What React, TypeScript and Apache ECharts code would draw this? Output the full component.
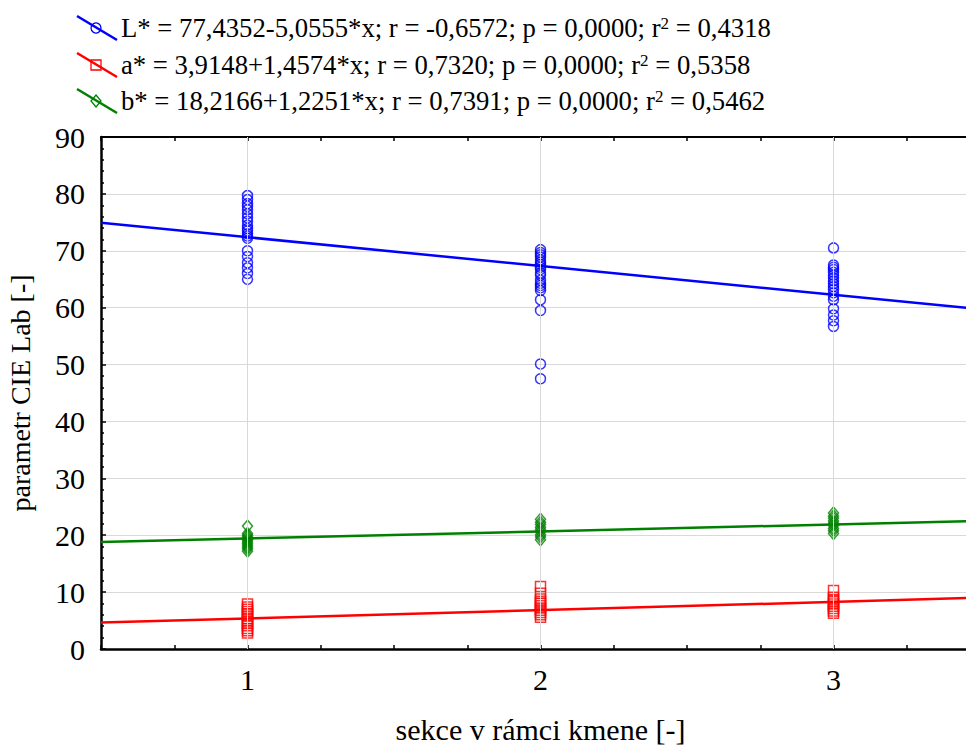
import React, { useEffect, useRef } from "react";
import * as echarts from "echarts";

// ---- data ----
const xTicks = [1, 2, 3];
const seriesNames = ["L*", "a*", "b*"];
const legendLabels = [
  "L* = 77,4352-5,0555*x; r = -0,6572; p = 0,0000; r",
  "a* = 3,9148+1,4574*x; r = 0,7320; p = 0,0000; r",
  "b* = 18,2166+1,2251*x; r = 0,7391; p = 0,0000; r",
];
const legendR2 = ["0,4318", "0,5358", "0,5462"];
const intercepts = [77.4352, 3.9148, 18.2166];
const slopes = [-5.0555, 1.4574, 1.2251];
const colors = ["#0000ff", "#ff0000", "#008000"];

const L1 = [79.7, 79.0, 78.3, 77.8, 77.2, 76.5, 75.8, 75.2, 74.5, 73.9, 73.5, 73.0, 72.6, 72.2, 70.0, 69.0, 67.9, 67.0, 66.0, 65.0];
const L2 = [70.2, 69.7, 69.3, 68.9, 68.4, 68.0, 67.6, 67.1, 66.7, 66.1, 65.7, 64.8, 64.3, 63.9, 63.5, 63.0, 61.4, 59.5, 50.1, 47.5];
const L3 = [70.5, 67.5, 67.1, 66.7, 66.2, 65.7, 65.2, 64.7, 64.2, 63.7, 63.2, 62.6, 62.0, 61.4, 59.8, 58.7, 57.7, 56.7];

const a1 = [7.9, 7.4, 7.0, 6.6, 6.2, 5.8, 5.3, 4.9, 4.5, 4.1, 3.6, 3.2, 2.8];
const a2 = [11.0, 9.8, 8.8, 8.4, 8.0, 7.6, 7.2, 6.8, 6.4, 6.0, 5.6];
const a3 = [10.3, 9.1, 8.7, 8.3, 7.9, 7.5, 7.1, 6.7, 6.3];

const b1 = [21.6, 20.3, 20.0, 19.7, 19.4, 19.1, 18.8, 18.5, 18.2, 17.9, 17.6, 17.2];
const b2 = [22.8, 22.3, 21.9, 21.4, 21.0, 20.6, 20.1, 19.7, 19.2];
const b3 = [23.9, 23.4, 23.0, 22.5, 22.1, 21.7, 21.2, 20.8, 20.3];

const xMin = 0.5;
const xMax = 3.5;
const yMin = 0;
const yMax = 90;

const FONT = "'Liberation Serif', 'Times New Roman', serif";

function groupData(groups: number[][]) {
  const out: number[][] = [];
  groups.forEach((vals, i) => vals.forEach((v) => out.push([xTicks[i], v])));
  return out;
}

export default function App() {
  const ref = useRef<HTMLDivElement>(null);

  useEffect(() => {
    if (!ref.current) return;
    const chart = echarts.init(ref.current, undefined, { renderer: "svg" });

    const scatterSets = [groupData([L1, L2, L3]), groupData([a1, a2, a3]), groupData([b1, b2, b3])];
    const symbols = ["circle", "rect", "diamond"];
    const symbolSizes: any[] = [10, [10, 10], [10, 12]];

    const series: any[] = [
      {
        type: "line",
        data: [],
        silent: true,
        z: 1,
        markLine: {
          silent: true,
          symbol: "none",
          label: { show: false },
          lineStyle: { color: "#d9d9d9", type: "solid", width: 1 },
          data: xTicks.map((x) => ({ xAxis: x })),
        },
      },
    ];

    seriesNames.forEach((name, i) => {
      series.push({
        name: name + " fit",
        type: "line",
        data: [
          [xMin, intercepts[i] + slopes[i] * xMin],
          [xMax, intercepts[i] + slopes[i] * xMax],
        ],
        showSymbol: false,
        silent: true,
        z: 3,
        lineStyle: { color: colors[i], width: 2.5 },
      });
      series.push({
        name,
        type: "scatter",
        data: scatterSets[i],
        symbol: symbols[i],
        symbolSize: symbolSizes[i],
        z: 4,
        itemStyle: { color: "transparent", borderColor: colors[i], borderWidth: 1.5 },
      });
    });

    // custom legend (diagonal line + marker + text)
    const rowsY = [28, 65, 101];
    const graphic: any[] = [];
    rowsY.forEach((cy, i) => {
      graphic.push({
        type: "line",
        shape: { x1: 77, y1: cy - 12, x2: 117, y2: cy + 12 },
        style: { stroke: colors[i], lineWidth: 2.5 },
      });
      if (i === 0) {
        graphic.push({ type: "circle", shape: { cx: 96, cy, r: 5 }, style: { fill: "transparent", stroke: colors[i], lineWidth: 1.3 } });
      } else if (i === 1) {
        graphic.push({ type: "rect", shape: { x: 91, y: cy - 5, width: 10, height: 10 }, style: { fill: "transparent", stroke: colors[i], lineWidth: 1.3 } });
      } else {
        graphic.push({
          type: "polygon",
          shape: { points: [[96, cy - 6], [101, cy], [96, cy + 6], [91, cy]] },
          style: { fill: "transparent", stroke: colors[i], lineWidth: 1.3 },
        });
      }
      graphic.push({
        type: "text",
        x: 121,
        y: cy,
        style: {
          text: legendLabels[i] + "{sup|2} = " + legendR2[i],
          fontFamily: FONT,
          fontSize: 26.7,
          fill: "#000",
          verticalAlign: "middle",
          rich: {
            sup: { fontSize: 17, fontFamily: FONT, verticalAlign: "top", fill: "#000" },
          },
        },
      });
    });

    const option: any = {
      animation: false,
      backgroundColor: "#ffffff",
      grid: {
        left: 101,
        top: 137,
        width: 879,
        height: 512,
        containLabel: false,
        outerBoundsMode: "none",
      },
      xAxis: [
        {
          type: "value",
          min: xMin,
          max: xMax,
          interval: 0.25,
          name: "sekce v rámci kmene [-]",
          nameLocation: "middle",
          nameGap: 65,
          nameTextStyle: { fontFamily: FONT, fontSize: 30, color: "#000" },
          axisLine: { show: true, onZero: false, lineStyle: { color: "#000", width: 2.5 } },
          axisTick: { show: true, inside: true, length: 4, lineStyle: { color: "#000", width: 1.5 } },
          axisLabel: {
            fontFamily: FONT,
            fontSize: 30,
            color: "#000",
            margin: 15,
            formatter: (v: number) => (Number.isInteger(v) && v >= 1 && v <= 3 ? String(v) : ""),
          },
          splitLine: { show: false },
        },
        {
          type: "value",
          position: "top",
          min: xMin,
          max: xMax,
          interval: 0.25,
          axisLine: { show: true, onZero: false, lineStyle: { color: "#000", width: 2 } },
          axisTick: { show: true, inside: true, length: 4, lineStyle: { color: "#000", width: 1.5 } },
          axisLabel: { show: false },
          splitLine: { show: false },
        },
      ],
      yAxis: {
        type: "value",
        min: yMin,
        max: yMax,
        interval: 10,
        name: "parametr CIE Lab [-]",
        nameLocation: "middle",
        nameGap: 67,
        nameTextStyle: { fontFamily: FONT, fontSize: 28, color: "#000" },
        axisLine: { show: true, onZero: false, lineStyle: { color: "#000", width: 2.5 } },
        axisTick: { show: true, inside: true, length: 5, lineStyle: { color: "#000", width: 1.5 } },
        minorTick: { show: true, splitNumber: 5, length: 3, lineStyle: { color: "#000", width: 1.5 } },
        axisLabel: { fontFamily: FONT, fontSize: 30, color: "#000", margin: 16 },
        splitLine: { show: true, lineStyle: { color: "#d9d9d9", width: 1 } },
      },
      graphic,
      series,
    };

    chart.setOption(option);
    return () => chart.dispose();
  }, []);

  return (
    <div
      style={{
        position: "fixed",
        left: 0,
        top: 0,
        width: "100vw",
        height: "100vh",
        overflow: "hidden",
        background: "#fff",
      }}
    >
      <div ref={ref} style={{ position: "absolute", left: 0, top: 0, width: 990, height: 746 }} />
    </div>
  );
}
